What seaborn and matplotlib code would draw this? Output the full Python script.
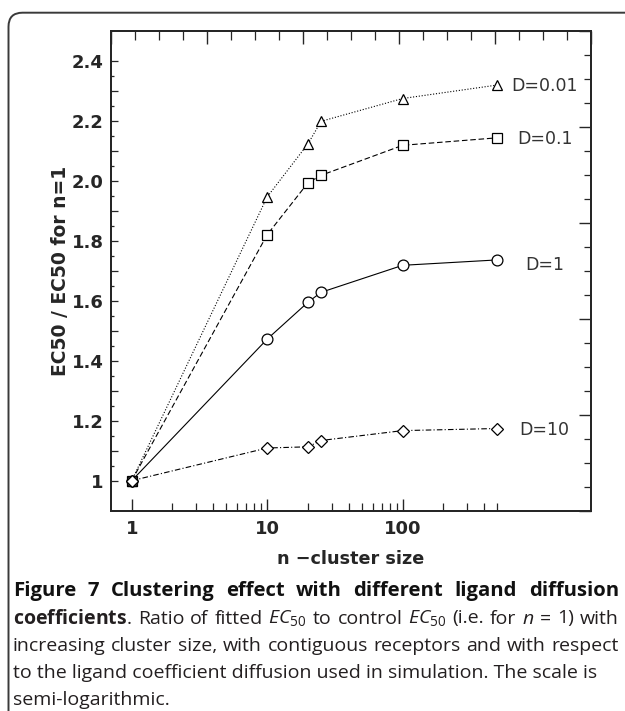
import matplotlib
matplotlib.use('Agg')
import numpy as np
import pandas as pd
import matplotlib.pyplot as plt
import matplotlib.patches as mpatches
from matplotlib.transforms import IdentityTransform
from matplotlib.ticker import FixedLocator, MultipleLocator, NullFormatter, FuncFormatter
import seaborn as sns

# data
n_sizes = [1, 10, 20, 25, 100, 500]
ratio_d001 = [1.0, 1.946, 2.123, 2.198, 2.274, 2.319]
ratio_d01 = [1.0, 1.820, 1.993, 2.018, 2.118, 2.143]
ratio_d1 = [1.0, 1.472, 1.595, 1.628, 1.718, 1.736]
ratio_d10 = [1.0, 1.109, 1.113, 1.134, 1.167, 1.174]
series_labels = ['D=0.01', 'D=0.1', 'D=1', 'D=10']

x_ticks = [1, 10, 100]
x_tick_labels = ['1', '10', '100']

caption_lines = [
    'Figure 7 Clustering effect with different ligand diffusion',
    r'$\mathbf{coefficients}$. Ratio of fitted $\mathit{EC}_{50}$ to control $\mathit{EC}_{50}$ (i.e. for $n$ = 1) with',
    'increasing cluster size, with contiguous receptors and with respect',
    'to the ligand coefficient diffusion used in simulation. The scale is',
    'semi-logarithmic.',
]

sns.set_style('ticks')
plt.rcParams['font.family'] = ['DejaVu Sans']
plt.rcParams['mathtext.fontset'] = 'custom'
plt.rcParams['mathtext.rm'] = 'Open Sans'
plt.rcParams['mathtext.it'] = 'Open Sans:italic'
plt.rcParams['mathtext.bf'] = 'Open Sans:bold'

df = pd.DataFrame({
    'n': n_sizes * 4,
    'ratio': ratio_d001 + ratio_d01 + ratio_d1 + ratio_d10,
    'D': np.repeat(series_labels, len(n_sizes)),
})

fig = plt.figure(figsize=(6.25, 7.11), dpi=100)
ax = fig.add_axes([110.7 / 625, 1 - 510.7 / 711, 480 / 625, 480 / 711])

styles = {
    'D=0.01': dict(marker='^', ms=7.0, ls=(0, (1, 1.6))),
    'D=0.1': dict(marker='s', ms=7.0, ls=(0, (5, 2.5))),
    'D=1': dict(marker='o', ms=7.8, ls='-'),
    'D=10': dict(marker='D', ms=6.2, ls=(0, (5, 2, 1, 2))),
}
label_dy = {'D=0.01': -1, 'D=0.1': -1.2, 'D=1': -3.7, 'D=10': -1.2}

for lab in series_labels:
    st = styles[lab]
    sub = df[df['D'] == lab]
    sns.lineplot(data=sub, x='n', y='ratio', ax=ax, color='black', lw=0.8,
                 linestyle=st['ls'], marker=st['marker'], markersize=st['ms'],
                 markerfacecolor='white', markeredgecolor='black',
                 markeredgewidth=0.9, legend=False)
    ax.annotate(lab, xy=(sub['n'].iloc[-1], sub['ratio'].iloc[-1]),
                xytext=(34, label_dy[lab]), textcoords='offset points',
                ha='center', va='center', fontsize=12.5, color='#333333')

ax.set_xscale('log')
ax.set_xlim(0.70, 2440)
ax.set_ylim(0.9, 2.5)

ax.set_xticks(x_ticks)
ax.set_xticklabels(x_tick_labels)
ax.xaxis.set_minor_locator(FixedLocator([2, 3, 4, 5, 6, 7, 8, 9,
                                         20, 30, 40, 50, 60, 70, 80, 90,
                                         200, 300, 400, 500]))
ax.xaxis.set_minor_formatter(NullFormatter())

ax.yaxis.set_major_locator(FixedLocator(np.round(np.arange(1.0, 2.41, 0.1), 2)))
ax.yaxis.set_minor_locator(FixedLocator(np.round(np.arange(1.05, 2.36, 0.1), 2)))


def ylab(v, pos):
    k = int(round(v * 10))
    if k % 2:
        return ''
    return '1' if k == 10 else '%.1f' % v


ax.yaxis.set_major_formatter(FuncFormatter(ylab))

for sp in ax.spines.values():
    sp.set_linewidth(1.2)
    sp.set_color('black')

ax.tick_params(axis='x', which='major', direction='in', length=8.4, width=1.0,
               labelsize=13, pad=7, top=False)
ax.tick_params(axis='x', which='minor', direction='in', length=6, width=0.9, top=False)
ax.tick_params(axis='y', which='major', direction='in', length=4.8, width=0.9,
               labelsize=13, pad=5, right=False)
ax.tick_params(axis='y', which='minor', direction='in', length=2.4, width=0.9, right=False)
for t in ax.get_xticklabels() + ax.get_yticklabels():
    t.set_fontweight('bold')

ax.set_xlabel('n −cluster size', fontsize=12.7, fontweight='bold', labelpad=8)
ax.set_ylabel('EC50 / EC50 for n=1', fontsize=13.5, fontweight='bold', labelpad=1)

# top and right frames carry their own evenly spaced ticks
axt = ax.twiny()
axt.set_xlim(0, 5)
axt.xaxis.set_major_locator(MultipleLocator(1))
axt.xaxis.set_minor_locator(MultipleLocator(0.25))
axt.tick_params(axis='x', which='major', direction='in', length=9, width=1.0, labeltop=False)
axt.tick_params(axis='x', which='minor', direction='in', length=6.7, width=0.9)

axr = ax.twinx()
axr.set_ylim(0, 5)
axr.yaxis.set_major_locator(MultipleLocator(1))
axr.yaxis.set_minor_locator(MultipleLocator(0.25))
axr.tick_params(axis='y', which='major', direction='in', length=8.9, width=1.0, labelright=False)
axr.tick_params(axis='y', which='minor', direction='in', length=5.3, width=0.9)
for a in (axt, axr):
    for sp in a.spines.values():
        sp.set_linewidth(1.2)

# rounded frame around the figure panel
frame = mpatches.FancyBboxPatch((8.5, -60), 700, 711 - 12.7 + 60,
                                boxstyle='round,pad=0,rounding_size=14',
                                transform=IdentityTransform(), fill=False,
                                lw=1.4, ec='#3a3a3a')
fig.add_artist(frame)

# caption, first three lines justified between x=13 and x=619
renderer = fig.canvas.get_renderer()
left_px, right_px = 13, 619
baselines = [596, 623.5, 651, 678.5, 705]
for i, line in enumerate(caption_lines):
    kw = dict(fontfamily='Open Sans', fontsize=14.6 if i == 0 else 14.0,
              va='baseline', ha='left',
              color='#111111' if i == 0 else '#231f20',
              fontweight='bold' if i == 0 else 'normal')
    y = 1 - baselines[i] / 711
    if i >= 3:
        fig.text(left_px / 625, y, line, **kw)
        continue
    words = line.split(' ')
    texts = [fig.text(0, y, w, **kw) for w in words]
    widths = [t.get_window_extent(renderer).width for t in texts]
    gap = (right_px - left_px - sum(widths)) / (len(words) - 1)
    x = left_px
    for t, w in zip(texts, widths):
        t.set_x(x / 625)
        x += w + gap

fig.savefig('out.png', dpi=100)
